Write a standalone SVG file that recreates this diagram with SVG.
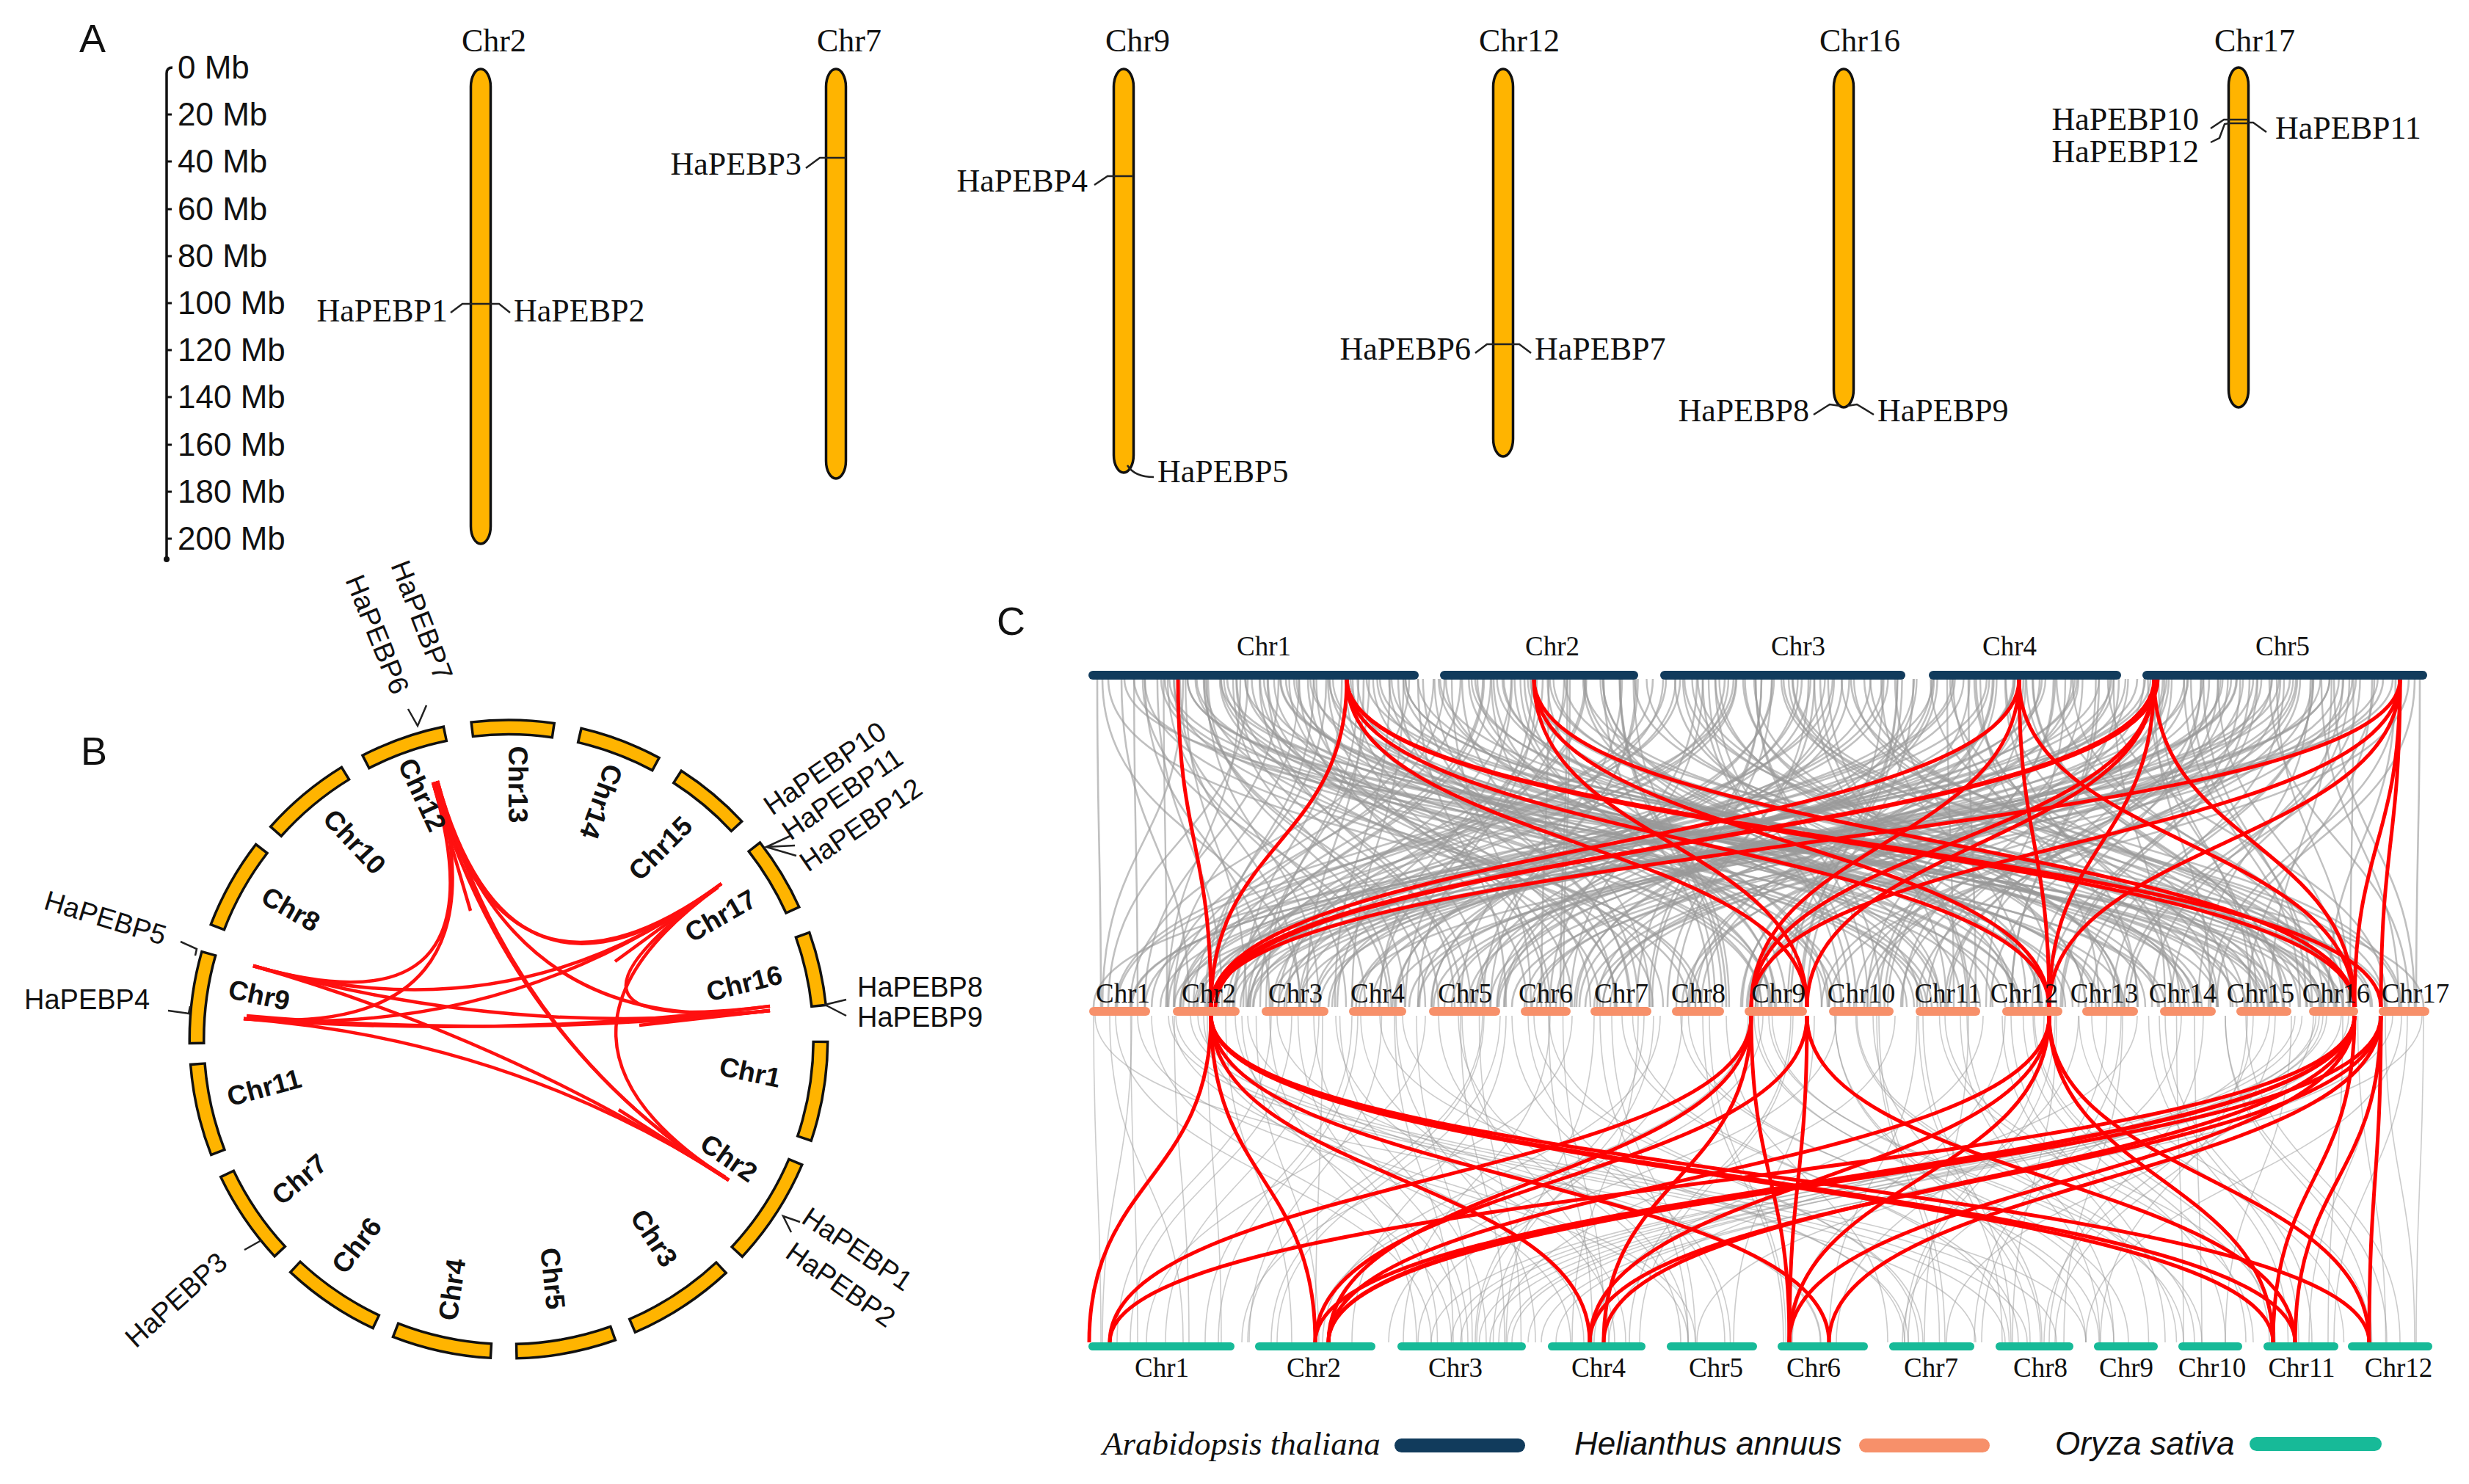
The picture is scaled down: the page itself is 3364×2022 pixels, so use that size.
<svg xmlns="http://www.w3.org/2000/svg" xmlns:xlink="http://www.w3.org/1999/xlink" width="3364" height="2022" viewBox="0 0 3364 2022">
<style>
.sf{font-family:"Liberation Serif","Times New Roman",serif;fill:#111}
.ss{font-family:"Liberation Sans",Arial,sans-serif;fill:#111}
.pl{font-family:"Liberation Sans",Arial,sans-serif;font-size:54px;fill:#111}
.chrA{fill:#FFB400;stroke:#111;stroke-width:3.5}
.mk{fill:none;stroke:#222;stroke-width:2.5}
.bo{fill:none;stroke:#111;stroke-width:23}
.bi{fill:none;stroke:#FFB400;stroke-width:16}
.bl{font-family:"Liberation Sans",Arial,sans-serif;font-weight:bold;font-size:37px;fill:#111}
.gn{font-family:"Liberation Sans",Arial,sans-serif;font-size:38px;fill:#111}
.lb{fill:none;stroke:#FF1010;stroke-width:4.5}
.gl{fill:none;stroke:#9a9a9a;stroke-opacity:0.62;stroke-width:2.6}
.gl2{fill:none;stroke:#9a9a9a;stroke-opacity:0.5;stroke-width:1.6}
.rl{fill:none;stroke:#FF0000;stroke-width:5}
.ct{font-family:"Liberation Serif","Times New Roman",serif;font-size:37px;fill:#111;text-anchor:middle}
</style>
<defs>
<path id="ring" d="M1118 1416A425 425 0 1 1 268 1416A425 425 0 1 1 1118 1416" pathLength="360" fill="none"/>
</defs>
<rect width="3364" height="2022" fill="#fff"/>

<!-- Panel labels -->
<text class="pl" x="108" y="71">A</text>
<text class="pl" x="110" y="1042">B</text>
<text class="pl" x="1358" y="865">C</text>

<!-- ================= PANEL A ================= -->
<g id="A-scale">
<path d="M227 760L227 100Q227 92 235 92" fill="none" stroke="#111" stroke-width="3.5"/>
<circle cx="227" cy="762" r="4" fill="#111"/>
<path d="M227 156h7M227 220h7M227 285h7M227 349h7M227 413h7M227 477h7M227 541h7M227 606h7M227 670h7M227 734h7" stroke="#111" stroke-width="3"/>
<g class="ss" font-size="44">
<text x="242" y="107">0 Mb</text>
<text x="242" y="171">20 Mb</text>
<text x="242" y="235">40 Mb</text>
<text x="242" y="300">60 Mb</text>
<text x="242" y="364">80 Mb</text>
<text x="242" y="428">100 Mb</text>
<text x="242" y="492">120 Mb</text>
<text x="242" y="556">140 Mb</text>
<text x="242" y="621">160 Mb</text>
<text x="242" y="685">180 Mb</text>
<text x="242" y="749">200 Mb</text>
</g>
</g>

<g id="A-chr2">
<text class="sf" font-size="44" x="673" y="70" text-anchor="middle">Chr2</text>
<rect class="chrA" x="641.5" y="94" width="27" height="647" rx="13.5" ry="24"/>
<path class="mk" d="M642 414H668M642 414L630 414L614 426M668 414L680 414L695 426"/>
<text class="sf" font-size="44" x="610" y="438" text-anchor="end">HaPEBP1</text>
<text class="sf" font-size="44" x="700" y="438">HaPEBP2</text>
</g>

<g id="A-chr7">
<text class="sf" font-size="44" x="1157" y="70" text-anchor="middle">Chr7</text>
<rect class="chrA" x="1125.5" y="94" width="27" height="558" rx="13.5" ry="24"/>
<path class="mk" d="M1126 215H1152M1126 215L1117 215L1098 229"/>
<text class="sf" font-size="44" x="1092" y="238" text-anchor="end">HaPEBP3</text>
</g>

<g id="A-chr9">
<text class="sf" font-size="44" x="1550" y="70" text-anchor="middle">Chr9</text>
<rect class="chrA" x="1517.5" y="94" width="27" height="550" rx="13.5" ry="24"/>
<path class="mk" d="M1518 240H1544M1518 240L1509 240L1491 252M1536 634Q1546 650 1572 650"/>
<text class="sf" font-size="44" x="1482" y="261" text-anchor="end">HaPEBP4</text>
<text class="sf" font-size="44" x="1577" y="657">HaPEBP5</text>
</g>

<g id="A-chr12">
<text class="sf" font-size="44" x="2070" y="70" text-anchor="middle">Chr12</text>
<rect class="chrA" x="2034.5" y="94" width="27" height="528" rx="13.5" ry="24"/>
<path class="mk" d="M2035 469H2061M2035 469L2026 469L2010 481M2061 469L2070 469L2086 481"/>
<text class="sf" font-size="44" x="2004" y="490" text-anchor="end">HaPEBP6</text>
<text class="sf" font-size="44" x="2091" y="490">HaPEBP7</text>
</g>

<g id="A-chr16">
<text class="sf" font-size="44" x="2534" y="70" text-anchor="middle">Chr16</text>
<rect class="chrA" x="2498.5" y="94" width="27" height="461" rx="13.5" ry="24"/>
<path class="mk" d="M2507 553L2493 551L2471 565M2517 553L2530 551L2553 565"/>
<text class="sf" font-size="44" x="2465" y="574" text-anchor="end">HaPEBP8</text>
<text class="sf" font-size="44" x="2558" y="574">HaPEBP9</text>
</g>

<g id="A-chr17">
<text class="sf" font-size="44" x="3072" y="70" text-anchor="middle">Chr17</text>
<rect class="chrA" x="3036.5" y="92" width="27" height="463" rx="13.5" ry="24"/>
<path class="mk" d="M3037 163H3063M3037 168H3063M3037 163L3030 163L3012 175M3037 168L3031 169L3024 188L3012 194M3063 167L3070 167L3088 180"/>
<text class="sf" font-size="44" x="2996" y="177" text-anchor="end">HaPEBP10</text>
<text class="sf" font-size="44" x="2996" y="221" text-anchor="end">HaPEBP12</text>
<text class="sf" font-size="44" x="3100" y="189">HaPEBP11</text>
</g>

<!-- ================= PANEL B ================= -->
<g id="B-links">
<path class="lb" d="M590 1066Q693 1416 345 1316"/>
<path class="lb" d="M596 1064Q693 1416 332 1388"/>
<path class="lb" d="M590 1066Q693 1416 983 1204"/>
<path class="lb" d="M596 1064Q693 1416 978 1209"/>
<path class="lb" d="M593 1065Q693 1416 1049 1377"/>
<path class="lb" d="M590 1066Q693 1416 993 1608"/>
<path class="lb" d="M596 1064Q693 1416 988 1604"/>
<path class="lb" d="M983 1204Q693 1416 332 1388"/>
<path class="lb" d="M978 1209Q693 1416 345 1316"/>
<path class="lb" d="M983 1204Q693 1416 1049 1371"/>
<path class="lb" d="M978 1209Q693 1416 993 1608"/>
<path class="lb" d="M1049 1377Q693 1416 345 1316"/>
<path class="lb" d="M1049 1371Q693 1416 332 1388"/>
<path class="lb" d="M1049 1377Q693 1416 336 1384"/>
<path class="lb" d="M993 1608Q693 1416 345 1316"/>
<path class="lb" d="M988 1604Q693 1416 332 1388"/>
<path class="lb" d="M590 1066L641 1241M983 1204L838 1310M1049 1377L871 1397M993 1608L843 1512"/>
</g>

<g id="B-chr1"><use xlink:href="#ring" class="bo" stroke-dasharray="18.54 360" stroke-dashoffset="-0.23"/><use xlink:href="#ring" class="bi" stroke-dasharray="17.6 360" stroke-dashoffset="-0.7"/><text class="bl" text-anchor="middle" dominant-baseline="central" transform="translate(1022 1461) rotate(12)">Chr1</text></g>
<g id="B-chr2"><use xlink:href="#ring" class="bo" stroke-dasharray="20.24 360" stroke-dashoffset="-22.93"/><use xlink:href="#ring" class="bi" stroke-dasharray="19.3 360" stroke-dashoffset="-23.4"/><text class="bl" text-anchor="middle" dominant-baseline="central" transform="translate(993 1578) rotate(35)">Chr2</text></g>
<g id="B-chr3"><use xlink:href="#ring" class="bo" stroke-dasharray="20.04 360" stroke-dashoffset="-46.83"/><use xlink:href="#ring" class="bi" stroke-dasharray="19.1 360" stroke-dashoffset="-47.3"/><text class="bl" text-anchor="middle" dominant-baseline="central" transform="translate(891 1687) rotate(57)">Chr3</text></g>
<g id="B-chr5"><use xlink:href="#ring" class="bo" stroke-dasharray="18.54 360" stroke-dashoffset="-70.23"/><use xlink:href="#ring" class="bi" stroke-dasharray="17.6 360" stroke-dashoffset="-70.7"/><text class="bl" text-anchor="middle" dominant-baseline="central" transform="translate(753 1742) rotate(84)">Chr5</text></g>
<g id="B-chr4"><use xlink:href="#ring" class="bo" stroke-dasharray="18.44 360" stroke-dashoffset="-93.03"/><use xlink:href="#ring" class="bi" stroke-dasharray="17.5 360" stroke-dashoffset="-93.5"/><text class="bl" text-anchor="middle" dominant-baseline="central" transform="translate(616 1757) rotate(-82)">Chr4</text></g>
<g id="B-chr6"><use xlink:href="#ring" class="bo" stroke-dasharray="18.44 360" stroke-dashoffset="-114.93"/><use xlink:href="#ring" class="bi" stroke-dasharray="17.5 360" stroke-dashoffset="-115.4"/><text class="bl" text-anchor="middle" dominant-baseline="central" transform="translate(486 1697) rotate(-52)">Chr6</text></g>
<g id="B-chr7"><use xlink:href="#ring" class="bo" stroke-dasharray="17.74 360" stroke-dashoffset="-136.93"/><use xlink:href="#ring" class="bi" stroke-dasharray="16.8 360" stroke-dashoffset="-137.4"/><text class="bl" text-anchor="middle" dominant-baseline="central" transform="translate(408 1607) rotate(-40)">Chr7</text>
<path class="mk" d="M333 1703L356 1690"/>
<text class="gn" transform="translate(185 1838) rotate(-42)">HaPEBP3</text></g>
<g id="B-chr11"><use xlink:href="#ring" class="bo" stroke-dasharray="17.14 360" stroke-dashoffset="-158.53"/><use xlink:href="#ring" class="bi" stroke-dasharray="16.2 360" stroke-dashoffset="-159"/><text class="bl" text-anchor="middle" dominant-baseline="central" transform="translate(360 1482) rotate(-15)">Chr11</text></g>
<g id="B-chr9"><use xlink:href="#ring" class="bo" stroke-dasharray="17.14 360" stroke-dashoffset="-179.03"/><use xlink:href="#ring" class="bi" stroke-dasharray="16.2 360" stroke-dashoffset="-179.5"/><text class="bl" text-anchor="middle" dominant-baseline="central" transform="translate(353 1356) rotate(12)">Chr9</text>
<path class="mk" d="M229 1377L257 1381L259 1371M246 1283L268 1293L266 1302"/>
<text class="gn" x="33" y="1375">HaPEBP4</text>
<text class="gn" transform="translate(58 1238) rotate(17)">HaPEBP5</text></g>
<g id="B-chr8"><use xlink:href="#ring" class="bo" stroke-dasharray="17.04 360" stroke-dashoffset="-200.83"/><use xlink:href="#ring" class="bi" stroke-dasharray="16.1 360" stroke-dashoffset="-201.3"/><text class="bl" text-anchor="middle" dominant-baseline="central" transform="translate(396 1239) rotate(30)">Chr8</text></g>
<g id="B-chr10"><use xlink:href="#ring" class="bo" stroke-dasharray="17.14 360" stroke-dashoffset="-221.53"/><use xlink:href="#ring" class="bi" stroke-dasharray="16.2 360" stroke-dashoffset="-222"/><text class="bl" text-anchor="middle" dominant-baseline="central" transform="translate(483 1147) rotate(47)">Chr10</text></g>
<g id="B-chr12"><use xlink:href="#ring" class="bo" stroke-dasharray="15.94 360" stroke-dashoffset="-242.53"/><use xlink:href="#ring" class="bi" stroke-dasharray="15 360" stroke-dashoffset="-243"/><text class="bl" text-anchor="middle" dominant-baseline="central" transform="translate(575 1083) rotate(65)">Chr12</text>
<path class="mk" d="M556 966L569 989L581 961"/>
<text class="gn" transform="translate(470 790) rotate(68)">HaPEBP6</text>
<text class="gn" transform="translate(532 770) rotate(69)">HaPEBP7</text></g>
<g id="B-chr13"><use xlink:href="#ring" class="bo" stroke-dasharray="15.44 360" stroke-dashoffset="-263.03"/><use xlink:href="#ring" class="bi" stroke-dasharray="14.5 360" stroke-dashoffset="-263.5"/><text class="bl" text-anchor="middle" dominant-baseline="central" transform="translate(705 1069) rotate(90)">Chr13</text></g>
<g id="B-chr14"><use xlink:href="#ring" class="bo" stroke-dasharray="15.44 360" stroke-dashoffset="-282.93"/><use xlink:href="#ring" class="bi" stroke-dasharray="14.5 360" stroke-dashoffset="-283.4"/><text class="bl" text-anchor="middle" dominant-baseline="central" transform="translate(819 1092) rotate(110)">Chr14</text></g>
<g id="B-chr15"><use xlink:href="#ring" class="bo" stroke-dasharray="14.64 360" stroke-dashoffset="-302.53"/><use xlink:href="#ring" class="bi" stroke-dasharray="13.7 360" stroke-dashoffset="-303"/><text class="bl" text-anchor="middle" dominant-baseline="central" transform="translate(900 1156) rotate(-45)">Chr15</text></g>
<g id="B-chr17"><use xlink:href="#ring" class="bo" stroke-dasharray="14.04 360" stroke-dashoffset="-321.73"/><use xlink:href="#ring" class="bi" stroke-dasharray="13.1 360" stroke-dashoffset="-322.2"/><text class="bl" text-anchor="middle" dominant-baseline="central" transform="translate(982 1248) rotate(-30)">Chr17</text>
<path class="mk" d="M1079 1138L1044 1154L1085 1166M1044 1154L1083 1152"/>
<text class="gn" transform="translate(1052 1112) rotate(-34.5)">HaPEBP10</text>
<text class="gn" transform="translate(1077 1146) rotate(-34.5)">HaPEBP11</text>
<text class="gn" transform="translate(1101 1189) rotate(-34.5)">HaPEBP12</text></g>
<g id="B-chr16"><use xlink:href="#ring" class="bo" stroke-dasharray="13.84 360" stroke-dashoffset="-340.23"/><use xlink:href="#ring" class="bi" stroke-dasharray="12.9 360" stroke-dashoffset="-340.7"/><text class="bl" text-anchor="middle" dominant-baseline="central" transform="translate(1014 1340) rotate(-14)">Chr16</text>
<path class="mk" d="M1153 1362L1124 1369L1153 1384"/>
<text class="gn" font-size="36" x="1168" y="1358">HaPEBP8</text>
<text class="gn" font-size="36" x="1168" y="1399">HaPEBP9</text></g>
<g id="B-genes-chr2">
<path class="mk" d="M1090 1665L1067 1657L1078 1679"/>
<text class="gn" transform="translate(1090 1665) rotate(34)">HaPEBP1</text>
<text class="gn" transform="translate(1068 1712) rotate(35)">HaPEBP2</text>
</g>

<!-- ================= PANEL C ================= -->
<g id="connectors">
<g id="gtm" class="gl">
<path d="M1495 925c0 224 5 223 5 447"/><path d="M1510 925c0 224 790 223 790 447"/><path d="M1528 925c0 224 92 223 92 447"/><path d="M1545 925c0 224 1405 223 1405 447"/><path d="M1560 925c0 224 170 223 170 447"/><path d="M1582 925c0 224 1038 223 1038 447"/><path d="M1600 925c0 224 260 223 260 447"/><path d="M1618 925c0 224 1542 223 1542 447"/><path d="M1640 925c0 224 320 223 320 447"/><path d="M1662 925c0 224 738 223 738 447"/><path d="M1685 925c0 224 495 223 495 447"/><path d="M1700 925c0 224 -190 223 -190 447"/><path d="M1722 925c0 224 1028 223 1028 447"/><path d="M1745 925c0 224 1315 223 1315 447"/><path d="M1770 925c0 224 310 223 310 447"/><path d="M1790 925c0 224 -140 223 -140 447"/><path d="M1812 925c0 224 688 223 688 447"/><path d="M1840 925c0 224 1020 223 1020 447"/><path d="M1858 925c0 224 -78 223 -78 447"/><path d="M1880 925c0 224 1370 223 1370 447"/><path d="M1905 925c0 224 295 223 295 447"/><path d="M1920 925c0 224 -380 223 -380 447"/>
<path d="M1970 925c0 224 670 223 670 447"/><path d="M1990 925c0 224 -390 223 -390 447"/><path d="M2010 925c0 224 990 223 990 447"/><path d="M2035 925c0 224 385 223 385 447"/><path d="M2060 925c0 224 -180 223 -180 447"/><path d="M2085 925c0 224 1095 223 1095 447"/><path d="M2110 925c0 224 -10 223 -10 447"/><path d="M2135 925c0 224 -435 223 -435 447"/><path d="M2160 925c0 224 620 223 620 447"/><path d="M2185 925c0 224 145 223 145 447"/><path d="M2210 925c0 224 -220 223 -220 447"/>
<path d="M2270 925c0 224 -750 223 -750 447"/><path d="M2295 925c0 224 795 223 795 447"/><path d="M2320 925c0 224 200 223 200 447"/><path d="M2350 925c0 224 -690 223 -690 447"/><path d="M2375 925c0 224 515 223 515 447"/><path d="M2400 925c0 224 -170 223 -170 447"/><path d="M2430 925c0 224 840 223 840 447"/><path d="M2455 925c0 224 -555 223 -555 447"/><path d="M2480 925c0 224 200 223 200 447"/><path d="M2510 925c0 224 -500 223 -500 447"/><path d="M2540 925c0 224 660 223 660 447"/><path d="M2565 925c0 224 -815 223 -815 447"/><path d="M2585 925c0 224 -145 223 -145 447"/>
<path d="M2635 925c0 224 -515 223 -515 447"/><path d="M2660 925c0 224 -1100 223 -1100 447"/><path d="M2690 925c0 224 280 223 280 447"/><path d="M2715 925c0 224 -415 223 -415 447"/><path d="M2745 925c0 224 -935 223 -935 447"/><path d="M2770 925c0 224 340 223 340 447"/><path d="M2800 925c0 224 -240 223 -240 447"/><path d="M2830 925c0 224 -1200 223 -1200 447"/><path d="M2860 925c0 224 -120 223 -120 447"/><path d="M2880 925c0 224 -880 223 -880 447"/>
<path d="M2930 925c0 224 -1440 223 -1440 447"/><path d="M2955 925c0 224 -575 223 -575 447"/><path d="M2985 925c0 224 165 223 165 447"/><path d="M3010 925c0 224 -360 223 -360 447"/><path d="M3040 925c0 224 -1120 223 -1120 447"/><path d="M3065 925c0 224 -255 223 -255 447"/><path d="M3095 925c0 224 -935 223 -935 447"/><path d="M3120 925c0 224 -1420 223 -1420 447"/><path d="M3150 925c0 224 -610 223 -610 447"/><path d="M3180 925c0 224 110 223 110 447"/><path d="M3205 925c0 224 -1145 223 -1145 447"/><path d="M3235 925c0 224 -335 223 -335 447"/><path d="M3260 925c0 224 -1660 223 -1660 447"/><path d="M3290 925c0 224 -270 223 -270 447"/>
</g>
<use xlink:href="#gtm" transform="matrix(-1 0 0 1 4792 0)"/>
<use xlink:href="#gtm" transform="matrix(0.9 0 0 1 240 0)"/>
<use xlink:href="#gtm" transform="matrix(-0.9 0 0 1 4552 0)"/>
<use xlink:href="#gtm" transform="matrix(0.96 0 0 1 110 0)"/>
<g id="gmb" class="gl2">
<path d="M1490 1384c0 222 10 223 10 445"/><path d="M1520 1384c0 222 430 223 430 445"/><path d="M1550 1384c0 222 750 223 750 445"/><path d="M1600 1384c0 222 20 223 20 445"/><path d="M1640 1384c0 222 500 223 500 445"/><path d="M1670 1384c0 222 90 223 90 445"/><path d="M1700 1384c0 222 780 223 780 445"/><path d="M1730 1384c0 222 200 223 200 445"/><path d="M1760 1384c0 222 -220 223 -220 445"/><path d="M1790 1384c0 222 210 223 210 445"/><path d="M1820 1384c0 222 380 223 380 445"/><path d="M1850 1384c0 222 -190 223 -190 445"/><path d="M1880 1384c0 222 720 223 720 445"/><path d="M1900 1384c0 222 80 223 80 445"/><path d="M1960 1384c0 222 330 223 330 445"/><path d="M1990 1384c0 222 60 223 60 445"/><path d="M2020 1384c0 222 -320 223 -320 445"/><path d="M2060 1384c0 222 290 223 290 445"/><path d="M2090 1384c0 222 530 223 530 445"/><path d="M2110 1384c0 222 60 223 60 445"/><path d="M2180 1384c0 222 120 223 120 445"/><path d="M2210 1384c0 222 540 223 540 445"/><path d="M2240 1384c0 222 -230 223 -230 445"/><path d="M2290 1384c0 222 570 223 570 445"/><path d="M2320 1384c0 222 110 223 110 445"/>
<path d="M2390 1384c0 222 510 223 510 445"/><path d="M2410 1384c0 222 590 223 590 445"/><path d="M2440 1384c0 222 -220 223 -220 445"/><path d="M2500 1384c0 222 280 223 280 445"/><path d="M2530 1384c0 222 460 223 460 445"/><path d="M2560 1384c0 222 90 223 90 445"/><path d="M2620 1384c0 222 120 223 120 445"/><path d="M2650 1384c0 222 450 223 450 445"/><path d="M2680 1384c0 222 200 223 200 445"/><path d="M2740 1384c0 222 210 223 210 445"/><path d="M2770 1384c0 222 290 223 290 445"/><path d="M2800 1384c0 222 -200 223 -200 445"/><path d="M2850 1384c0 222 380 223 380 445"/><path d="M2890 1384c0 222 -190 223 -190 445"/><path d="M2950 1384c0 222 200 223 200 445"/><path d="M2990 1384c0 222 10 223 10 445"/><path d="M3060 1384c0 222 210 223 210 445"/><path d="M3100 1384c0 222 -300 223 -300 445"/><path d="M3160 1384c0 222 -1210 223 -1210 445"/><path d="M3190 1384c0 222 -1160 223 -1160 445"/><path d="M3200 1384c0 222 -1140 223 -1140 445"/><path d="M3250 1384c0 222 40 223 40 445"/><path d="M3280 1384c0 222 -100 223 -100 445"/><path d="M3300 1384c0 222 -1200 223 -1200 445"/><path d="M3170 1384c0 222 -1180 223 -1180 445"/>
</g>
<use xlink:href="#gmb" transform="matrix(-1 0 0 1 4792 0)"/>
<use xlink:href="#gmb" transform="matrix(0.95 0 0 1 125 0)"/>
<g id="red-tm" class="rl">
<path d="M1605 925c0 224 45 223 45 447"/><path d="M1835 925c0 224 -185 223 -185 447"/><path d="M1835 925c0 224 627 223 627 447"/><path d="M1835 925c0 224 957 223 957 447"/><path d="M1835 925c0 224 1373 223 1373 447"/><path d="M1835 925c0 224 1409 223 1409 447"/>
<path d="M2090 925c0 224 372 223 372 447"/><path d="M2090 925c0 224 702 223 702 447"/><path d="M2090 925c0 224 1118 223 1118 447"/>
<path d="M2751 925c0 224 -1101 223 -1101 447"/><path d="M2751 925c0 224 -365 223 -365 447"/><path d="M2751 925c0 224 41 223 41 447"/><path d="M2751 925c0 224 457 223 457 447"/>
<path d="M2935 925c0 224 -1285 223 -1285 447"/><path d="M2940 925c0 224 -1284 223 -1284 447"/><path d="M2935 925c0 224 -549 223 -549 447"/><path d="M2935 925c0 224 -473 223 -473 447"/><path d="M2935 925c0 224 -143 223 -143 447"/><path d="M2935 925c0 224 273 223 273 447"/>
<path d="M3270 925c0 224 -1620 223 -1620 447"/><path d="M3270 925c0 224 -884 223 -884 447"/><path d="M3270 925c0 224 -478 223 -478 447"/><path d="M3270 925c0 224 -62 223 -62 447"/><path d="M3270 925c0 224 -26 223 -26 447"/>
</g>
<g id="red-mb" class="rl">
<path d="M1650 1384c0 222 -166 223 -166 445"/><path d="M1650 1384c0 222 142 223 142 445"/><path d="M1650 1384c0 222 516 223 516 445"/><path d="M1650 1384c0 222 842 223 842 445"/><path d="M1650 1384c0 222 1447 223 1447 445"/><path d="M1650 1384c0 222 1477 223 1477 445"/><path d="M1650 1384c0 222 1578 223 1578 445"/>
<path d="M2386 1384c0 222 -874 223 -874 445"/><path d="M2386 1384c0 222 -576 223 -576 445"/><path d="M2386 1384c0 222 -201 223 -201 445"/><path d="M2386 1384c0 222 52 223 52 445"/>
<path d="M2462 1384c0 222 -24 223 -24 445"/><path d="M2462 1384c0 222 -670 223 -670 445"/><path d="M2462 1384c0 222 665 223 665 445"/>
<path d="M2792 1384c0 222 -982 223 -982 445"/><path d="M2792 1384c0 222 -626 223 -626 445"/><path d="M2792 1384c0 222 -354 223 -354 445"/><path d="M2792 1384c0 222 305 223 305 445"/><path d="M2792 1384c0 222 436 223 436 445"/>
<path d="M3208 1384c0 222 -1696 223 -1696 445"/><path d="M3208 1384c0 222 -1416 223 -1416 445"/><path d="M3208 1384c0 222 -1398 223 -1398 445"/><path d="M3208 1384c0 222 -1023 223 -1023 445"/><path d="M3208 1384c0 222 -770 223 -770 445"/><path d="M3208 1384c0 222 -111 223 -111 445"/>
<path d="M3244 1384c0 222 -1078 223 -1078 445"/><path d="M3244 1384c0 222 -752 223 -752 445"/><path d="M3244 1384c0 222 -117 223 -117 445"/><path d="M3244 1384c0 222 -16 223 -16 445"/><path d="M3244 1384c0 222 -1434 223 -1434 445"/>
</g>
</g>

<g id="C-ath" fill="#113B5C">
<rect x="1483" y="914" width="450" height="12" rx="6"/>
<rect x="1962" y="914" width="270" height="12" rx="6"/>
<rect x="2262" y="914" width="334" height="12" rx="6"/>
<rect x="2628" y="914" width="262" height="12" rx="6"/>
<rect x="2919" y="914" width="388" height="12" rx="6"/>
<text class="ct" x="1722" y="893">Chr1</text>
<text class="ct" x="2115" y="893">Chr2</text>
<text class="ct" x="2450" y="893">Chr3</text>
<text class="ct" x="2738" y="893">Chr4</text>
<text class="ct" x="3110" y="893">Chr5</text>
</g>

<g id="C-han" fill="#F7906A">
<rect x="1484" y="1372" width="83" height="12" rx="6"/>
<rect x="1598" y="1372" width="91" height="12" rx="6"/>
<rect x="1719" y="1372" width="91" height="12" rx="6"/>
<rect x="1838" y="1372" width="78" height="12" rx="6"/>
<rect x="1947" y="1372" width="97" height="12" rx="6"/>
<rect x="2072" y="1372" width="68" height="12" rx="6"/>
<rect x="2167" y="1372" width="83" height="12" rx="6"/>
<rect x="2278" y="1372" width="71" height="12" rx="6"/>
<rect x="2377" y="1372" width="85" height="12" rx="6"/>
<rect x="2492" y="1372" width="88" height="12" rx="6"/>
<rect x="2610" y="1372" width="88" height="12" rx="6"/>
<rect x="2728" y="1372" width="82" height="12" rx="6"/>
<rect x="2837" y="1372" width="76" height="12" rx="6"/>
<rect x="2943" y="1372" width="76" height="12" rx="6"/>
<rect x="3047" y="1372" width="75" height="12" rx="6"/>
<rect x="3146" y="1372" width="67" height="12" rx="6"/>
<rect x="3241" y="1372" width="69" height="12" rx="6"/>
<g font-size="38">
<text class="ct" x="1530" y="1366">Chr1</text>
<text class="ct" x="1647" y="1366">Chr2</text>
<text class="ct" x="1765" y="1366">Chr3</text>
<text class="ct" x="1877" y="1366">Chr4</text>
<text class="ct" x="1996" y="1366">Chr5</text>
<text class="ct" x="2106" y="1366">Chr6</text>
<text class="ct" x="2209" y="1366">Chr7</text>
<text class="ct" x="2314" y="1366">Chr8</text>
<text class="ct" x="2423" y="1366">Chr9</text>
<text class="ct" x="2536" y="1366">Chr10</text>
<text class="ct" x="2654" y="1366">Chr11</text>
<text class="ct" x="2758" y="1366">Chr12</text>
<text class="ct" x="2867" y="1366">Chr13</text>
<text class="ct" x="2974" y="1366">Chr14</text>
<text class="ct" x="3080" y="1366">Chr15</text>
<text class="ct" x="3183" y="1366">Chr16</text>
<text class="ct" x="3291" y="1366">Chr17</text>
</g>
</g>

<g id="C-osa" fill="#17BA98">
<rect x="1483" y="1829" width="199" height="11" rx="5.5"/>
<rect x="1710" y="1829" width="164" height="11" rx="5.5"/>
<rect x="1904" y="1829" width="175" height="11" rx="5.5"/>
<rect x="2109" y="1829" width="133" height="11" rx="5.5"/>
<rect x="2271" y="1829" width="123" height="11" rx="5.5"/>
<rect x="2422" y="1829" width="123" height="11" rx="5.5"/>
<rect x="2574" y="1829" width="116" height="11" rx="5.5"/>
<rect x="2719" y="1829" width="106" height="11" rx="5.5"/>
<rect x="2853" y="1829" width="87" height="11" rx="5.5"/>
<rect x="2968" y="1829" width="87" height="11" rx="5.5"/>
<rect x="3084" y="1829" width="102" height="11" rx="5.5"/>
<rect x="3199" y="1829" width="115" height="11" rx="5.5"/>
<g font-size="38">
<text class="ct" x="1583" y="1876">Chr1</text>
<text class="ct" x="1790" y="1876">Chr2</text>
<text class="ct" x="1983" y="1876">Chr3</text>
<text class="ct" x="2178" y="1876">Chr4</text>
<text class="ct" x="2338" y="1876">Chr5</text>
<text class="ct" x="2471" y="1876">Chr6</text>
<text class="ct" x="2631" y="1876">Chr7</text>
<text class="ct" x="2780" y="1876">Chr8</text>
<text class="ct" x="2897" y="1876">Chr9</text>
<text class="ct" x="3014" y="1876">Chr10</text>
<text class="ct" x="3136" y="1876">Chr11</text>
<text class="ct" x="3268" y="1876">Chr12</text>
</g>
</g>

<g id="C-legend">
<text class="sf" font-size="45" font-style="italic" x="1502" y="1982">Arabidopsis thaliana</text>
<rect x="1900" y="1960" width="178" height="19" rx="9.5" fill="#113B5C"/>
<text class="ss" font-size="44" font-style="italic" x="2145" y="1982">Helianthus annuus</text>
<rect x="2533" y="1960" width="178" height="19" rx="9.5" fill="#F7906A"/>
<text class="ss" font-size="44" font-style="italic" x="2800" y="1982">Oryza sativa</text>
<rect x="3065" y="1958" width="180" height="19" rx="9.5" fill="#17BA98"/>
</g>
</svg>
